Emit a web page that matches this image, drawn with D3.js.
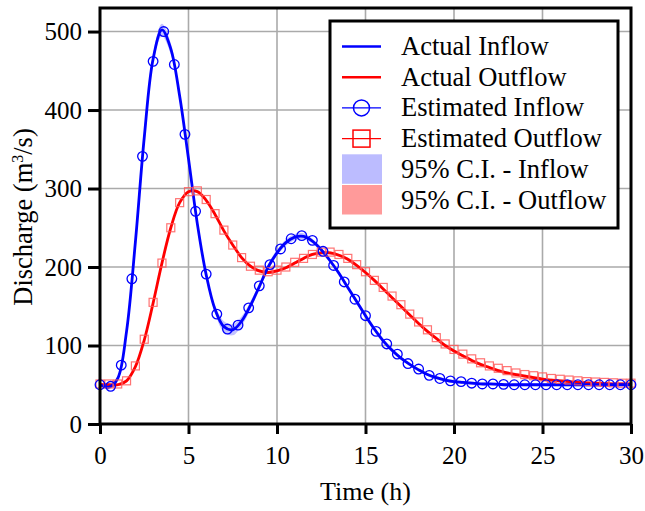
<!DOCTYPE html>
<html>
<head>
<meta charset="utf-8">
<script src="https://cdn.jsdelivr.net/npm/d3@7/dist/d3.min.js"></script>
<style>
  html, body { margin: 0; padding: 0; background: #fff; }
  svg { display: block; font-family: "Liberation Serif", "Times New Roman", serif; }
</style>
</head>
<body>
<svg id="chart" width="645" height="511"></svg>
<script>
// ── Data ───────────────────────────────────────────────────────────────────

// actual curves sampled every 0.5 h, 0..30
const actualTimes = d3.range(0, 30.001, 0.5);
const actualInflow = [
  50, 47, 58, 118, 232, 365, 465, 502, 478, 418,
  338, 255, 190, 146, 124, 120, 131, 151, 175, 200,
  218, 231, 238, 239, 233, 222, 208, 192, 174, 156,
  138, 121, 106, 94, 84, 76, 69, 63, 59, 56,
  54, 53, 52, 51, 51, 50.5, 50, 50, 50, 50,
  50, 50, 50, 50, 50, 50, 50, 50, 50, 50, 50
];
const actualOutflow = [
  50, 50, 50, 55, 73, 107, 154, 205, 250, 282,
  296, 296, 285, 267, 246, 228, 212, 201, 195, 193,
  195, 199, 205, 211, 216, 218, 218, 215, 210, 202,
  193, 183, 172, 161, 150, 139, 128, 118, 109, 100,
  93, 87, 81, 76, 72, 68, 65, 63, 61, 59,
  57, 56, 55, 54, 53, 52.5, 52, 51.5, 51, 51, 51
];
// half width of the 95% bands, same 0.5 h grid
const ciInflowHalf = [
  2, 3, 3, 3, 3, 4, 6, 8, 7, 4,
  3, 3, 4, 5, 7, 7, 6, 5, 4, 4,
  4, 4, 4, 4, 3, 3, 3, 3, 3, 3,
  3, 3, 3, 3, 2, 2, 2, 2, 2, 2,
  2, 2, 2, 2, 2, 2, 2, 2, 2, 2,
  2, 2, 2, 2, 2, 2, 2, 2, 2, 2, 2
];
const ciOutflowHalf = [
  2, 2, 2, 2, 2, 2, 2, 2, 2, 2,
  2, 2, 2, 2, 2, 2, 2, 2, 2, 2,
  2, 2, 2, 2, 2, 2, 2, 2, 2, 2,
  2, 2, 2, 2, 2, 2, 2, 2, 2, 2,
  2, 2, 2, 2, 2, 2, 2, 2, 2, 2,
  2, 2, 2, 2, 2, 2, 2, 2, 2, 2, 2
];

// estimated inflow every 0.6 h
const estInflowTimes = d3.range(0, 30.001, 0.6);
const estInflow = [
  50, 48, 75, 185, 341, 462, 500, 458, 369, 271,
  191, 140, 121, 126, 148, 176, 203, 223, 236, 240,
  234, 220, 202, 181, 159, 138, 118, 102, 89, 77,
  70, 62, 58, 55, 54, 52, 51, 51, 50.5, 50,
  50, 50, 50, 50, 50, 50, 50, 50, 50, 50, 50
];

// estimated outflow every 0.5 h
const estOutflowTimes = d3.range(0, 30.001, 0.5);
const estOutflow = [
  51, 51, 51, 55, 74, 108, 155, 205, 250, 282,
  296, 297, 286, 268, 247, 228, 212, 201, 196, 194,
  196, 200, 206, 211, 216, 219, 219, 216, 211, 203,
  194, 183, 174, 163, 152, 140, 130, 120, 110, 102,
  95, 89, 83, 78, 74, 71, 68, 65, 63, 61.5,
  60, 58, 57, 56, 55, 54, 53.5, 53, 52.5, 52, 52
];

const xTicks = [0, 5, 10, 15, 20, 25, 30];
const yTicks = [0, 100, 200, 300, 400, 500];

const BLUE = '#0000ff', RED = '#ff0000';
const CI_BLUE = '#bcbcff', CI_RED = '#ff9a9a';

const legendItems = [
  { label: 'Actual Inflow',        kind: 'line',   color: BLUE },
  { label: 'Actual Outflow',       kind: 'line',   color: RED },
  { label: 'Estimated Inflow',     kind: 'circle', color: BLUE },
  { label: 'Estimated Outflow',    kind: 'square', color: RED },
  { label: '95% C.I. - Inflow',    kind: 'patch',  color: CI_BLUE },
  { label: '95% C.I. - Outflow',   kind: 'patch',  color: CI_RED },
];

// ── Layout ────────────────────────────────────────────────────────────────

const svg = d3.select('#chart');
const L = 100, R = 631, T = 8, B = 424;

const x = d3.scaleLinear().domain([0, 30]).range([L, R]);
const y = d3.scaleLinear().domain([0, 530]).range([B, T]);

// grid
const grid = svg.append('g').attr('stroke', '#aaaaaa').attr('stroke-width', 1.6);
grid.selectAll('.gx').data(xTicks).join('line')
  .attr('x1', d => x(d)).attr('x2', d => x(d)).attr('y1', T).attr('y2', B);
grid.selectAll('.gy').data(yTicks).join('line')
  .attr('x1', L).attr('x2', R).attr('y1', d => y(d)).attr('y2', d => y(d));

// ── Bands ──
const band = (vals, half) => d3.area()
  .x((d, i) => x(actualTimes[i]))
  .y0((d, i) => y(vals[i] - half[i]))
  .y1((d, i) => y(vals[i] + half[i]))
  .curve(d3.curveCatmullRom)(vals);

svg.append('path').attr('d', band(actualOutflow, ciOutflowHalf))
  .attr('fill', CI_RED).attr('opacity', 0.8);
svg.append('path').attr('d', band(actualInflow, ciInflowHalf))
  .attr('fill', CI_BLUE).attr('opacity', 0.9);

// ── Lines ──
const lineGen = d3.line()
  .x((d, i) => x(actualTimes[i]))
  .y(d => y(d))
  .curve(d3.curveCatmullRom);

svg.append('path').attr('d', lineGen(actualOutflow))
  .attr('fill', 'none').attr('stroke', RED).attr('stroke-width', 2.8);
svg.append('path').attr('d', lineGen(actualInflow))
  .attr('fill', 'none').attr('stroke', BLUE).attr('stroke-width', 2.8);

// ── Markers ──
const sq = 8;
svg.append('g').selectAll('rect')
  .data(estOutflow)
  .join('rect')
  .attr('x', (d, i) => x(estOutflowTimes[i]) - sq / 2)
  .attr('y', d => y(d) - sq / 2)
  .attr('width', sq).attr('height', sq)
  .attr('fill', 'none')
  .attr('stroke', '#ff5a5a').attr('stroke-opacity', 0.85)
  .attr('stroke-width', 1.2);

svg.append('g').selectAll('circle')
  .data(estInflow)
  .join('circle')
  .attr('cx', (d, i) => x(estInflowTimes[i]))
  .attr('cy', d => y(d))
  .attr('r', 4.8)
  .attr('fill', 'none')
  .attr('stroke', BLUE)
  .attr('stroke-width', 1.3);

// ── Frame & axes ──
svg.append('rect')
  .attr('x', L).attr('y', T).attr('width', R - L).attr('height', B - T)
  .attr('fill', 'none').attr('stroke', '#000').attr('stroke-width', 3);

const xAxis = svg.append('g')
  .attr('transform', `translate(0,${B})`)
  .call(d3.axisBottom(x).tickValues(xTicks).tickSize(10).tickPadding(12).tickFormat(d3.format('d')));
const yAxis = svg.append('g')
  .attr('transform', `translate(${L},0)`)
  .call(d3.axisLeft(y).tickValues(yTicks).tickSize(12).tickPadding(6).tickFormat(d3.format('d')));

for (const ax of [xAxis, yAxis]) {
  ax.select('.domain').remove();
  ax.selectAll('line').attr('stroke', '#000').attr('stroke-width', 3);
  ax.selectAll('text')
    .attr('fill', '#000')
    .attr('font-size', 25)
    .attr('font-family', '"Liberation Serif", "Times New Roman", serif');
}

svg.append('text')
  .attr('x', (L + R) / 2).attr('y', 500)
  .attr('text-anchor', 'middle')
  .attr('font-size', 26)
  .text('Time (h)');

const yt = svg.append('text')
  .attr('transform', 'translate(32,217) rotate(-90)')
  .attr('text-anchor', 'middle')
  .attr('font-size', 26.5);
yt.append('tspan').text('Discharge (m');
yt.append('tspan').attr('font-size', 16).attr('dy', -9).text('3');
yt.append('tspan').attr('dy', 9).text('/s)');

// ── Legend ──
const lg = svg.append('g');
lg.append('rect')
  .attr('x', 330).attr('y', 21).attr('width', 288).attr('height', 207)
  .attr('fill', '#fff').attr('stroke', '#000').attr('stroke-width', 3);

const rowY = i => 46.5 + i * 30.7;
legendItems.forEach((it, i) => {
  const cy = rowY(i);
  const g = lg.append('g');
  if (it.kind === 'patch') {
    g.append('rect').attr('x', 342).attr('y', cy - 15).attr('width', 40).attr('height', 29.5)
      .attr('fill', it.color);
  } else {
    g.append('line').attr('x1', 342).attr('x2', 381).attr('y1', cy).attr('y2', cy)
      .attr('stroke', it.color).attr('stroke-width', it.kind === 'line' ? 2.5 : 1.3);
    if (it.kind === 'circle') {
      g.append('circle').attr('cx', 361.5).attr('cy', cy).attr('r', 8)
        .attr('fill', 'none').attr('stroke', it.color).attr('stroke-width', 1.5);
    } else if (it.kind === 'square') {
      g.append('rect').attr('x', 353).attr('y', cy - 8.5).attr('width', 17).attr('height', 17)
        .attr('fill', 'none').attr('stroke', it.color).attr('stroke-width', 1.5);
    }
  }
  g.append('text').attr('x', 401).attr('y', cy + 8.5)
    .attr('font-size', 26.5).text(it.label);
});
</script>
</body>
</html>
